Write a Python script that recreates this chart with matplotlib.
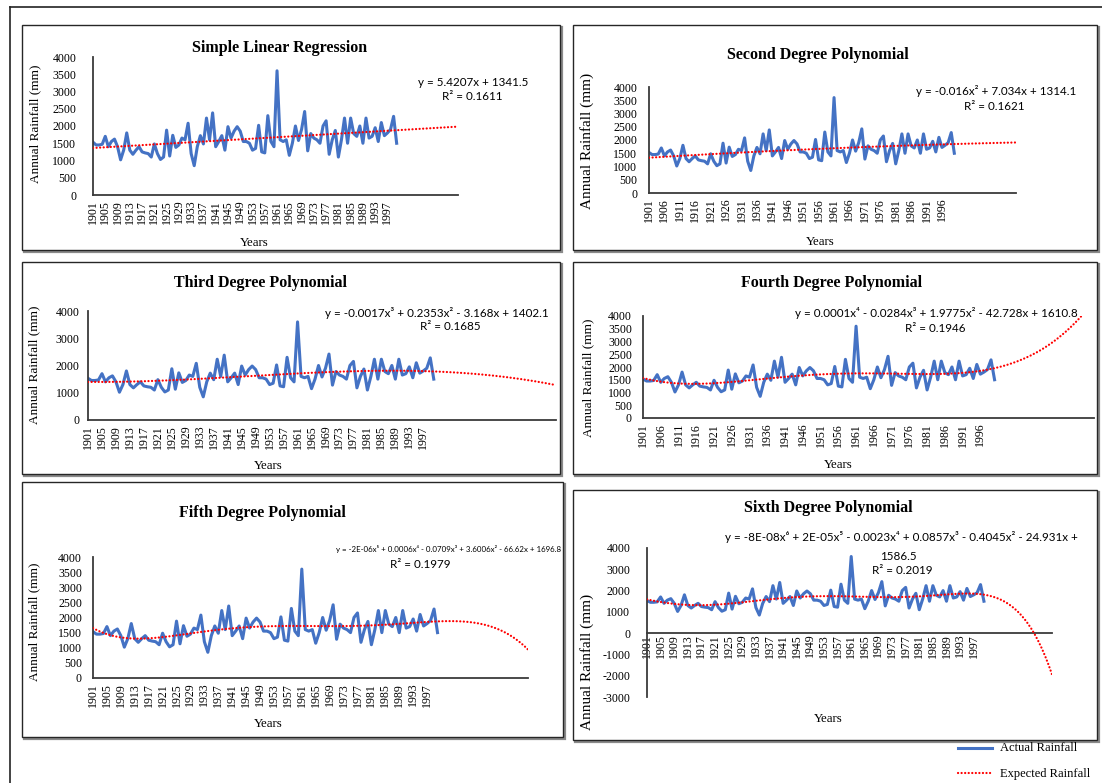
import numpy as np
import matplotlib
matplotlib.use("Agg")
import matplotlib.pyplot as plt
from matplotlib.patches import Rectangle
from matplotlib.lines import Line2D

plt.rcParams["axes.unicode_minus"] = False

W, H = 1102, 783

years = list(range(1901, 2001))
rainfall = [1530, 1450, 1450, 1470, 1700, 1400, 1550, 1620, 1400, 1020,
            1300, 1800, 1300, 1180, 1300, 1400, 1250, 1220, 1200, 1100,
            1480, 1200, 1030, 1100, 1880, 1130, 1730, 1380, 1450, 1650,
            1600, 2080, 1200, 850, 1400, 1720, 1480, 2230, 1600, 2380,
            1400, 1550, 1720, 1300, 1980, 1650, 1850, 1980, 1850, 1550,
            1550, 1500, 1300, 1350, 2020, 1250, 1220, 2300, 1550, 1400,
            3600, 1600, 1550, 1600, 1150, 1500, 2000, 1580, 1900, 2420,
            1280, 1780, 1650, 1600, 1500, 2000, 2150, 1180, 1600, 1870,
            1100, 1600, 2230, 1500, 2230, 1780, 1700, 2000, 1500, 2230,
            1650, 1700, 1950, 1550, 2100, 1720, 1800, 1900, 2280, 1500]

titles = ["Simple Linear Regression", "Second Degree Polynomial",
          "Third Degree Polynomial", "Fourth Degree Polynomial",
          "Fifth Degree Polynomial", "Sixth Degree Polynomial"]
degrees = [1, 2, 3, 4, 5, 6]
forecast_periods = [20, 20, 35, 28, 26, 20]
label_steps = [4, 5, 4, 5, 4, 4]
equations = [
    ["y = 5.4207x + 1341.5"],
    ["y = -0.016x\u00b2 + 7.034x + 1314.1"],
    ["y = -0.0017x\u00b3 + 0.2353x\u00b2 - 3.168x + 1402.1"],
    ["y = 0.0001x\u2074 - 0.0284x\u00b3 + 1.9775x\u00b2 - 42.728x + 1610.8"],
    ["y = -2E-06x\u2075 + 0.0006x\u2074 - 0.0709x\u00b3 + 3.6006x\u00b2 - 66.62x + 1696.8"],
    ["y = -8E-08x\u2076 + 2E-05x\u2075 - 0.0023x\u2074 + 0.0857x\u00b3 - 0.4045x\u00b2 - 24.931x +",
     "1586.5"],
]
r2_labels = ["R\u00b2 = 0.1611", "R\u00b2 = 0.1621", "R\u00b2 = 0.1685",
             "R\u00b2 = 0.1946", "R\u00b2 = 0.1979", "R\u00b2 = 0.2019"]
y_limits = [(0, 4000), (0, 4000), (0, 4000), (0, 4000), (0, 4000), (-3000, 4000)]
y_steps = [500, 500, 1000, 500, 500, 1000]
legend_labels = ["Actual Rainfall", "Expected Rainfall"]

SERIF = ["Liberation Serif", "DejaVu Serif"]
SANS = ["Lato", "Liberation Sans", "DejaVu Sans"]
BLUE = "#4472C4"
RED = "#FF0000"

layout = [
    dict(box=(22, 25, 560, 250), ax=(93, 57, 458, 195), title=(280, 48),
         ylab=(35, 124, 9.5), years=(254, 243), eq=[(473, 82)], r2=(472, 97), eqfs=8.4,
         ypad=12, xpad=3.5),
    dict(box=(573, 25, 1097, 250), ax=(649, 87, 1016, 193), title=(818, 55),
         ylab=(587, 141, 11), years=(820, 242), eq=[(996, 91)], r2=(994, 106), eqfs=8.4,
         ypad=8.5, xpad=3.5),
    dict(box=(22, 262, 560, 474), ax=(88, 311, 556, 420), title=(260, 283),
         ylab=(34, 365, 9.5), years=(268, 466), eq=[(437, 313)], r2=(450, 327), eqfs=8.4,
         ypad=6, xpad=3.5),
    dict(box=(573, 262, 1097, 474), ax=(643, 316, 1094, 418), title=(832, 283),
         ylab=(588, 378, 9.5), years=(838, 465), eq=[(936, 313)], r2=(935, 328), eqfs=8.4,
         ypad=8, xpad=3.5),
    dict(box=(22, 482, 563, 737), ax=(93, 557, 528, 678), title=(262, 513),
         ylab=(34, 622, 9.5), years=(268, 724), eq=[(449, 549)], r2=(420, 565), eqfs=5.7,
         ypad=8, xpad=3.5),
    dict(box=(573, 490, 1097, 740), ax=(647, 548, 1052, 697), title=(828, 508),
         ylab=(587, 662, 11), years=(828, 719), eq=[(901, 537), (898, 556)], r2=(902, 571),
         eqfs=8.4, ypad=12, xpad=0.5),
]

fig = plt.figure(figsize=(W / 100, H / 100), dpi=100)
fig.patch.set_facecolor("white")


def fx(x):
    return x / W


def fy(y):
    return 1 - y / H


def ftext(x, y, s, **kw):
    fig.text(fx(x), fy(y), s, **kw)


fig.add_artist(Line2D([fx(10), fx(10)], [fy(7), fy(783)], color="#222222", lw=1.2, zorder=-5))
fig.add_artist(Line2D([fx(10), fx(1102)], [fy(7), fy(7)], color="#222222", lw=1.2, zorder=-5))

x_data = np.arange(1, len(rainfall) + 1)

for i in range(6):
    L = layout[i]
    bx0, by0, bx1, by1 = L["box"]
    fig.add_artist(Rectangle((fx(bx0 + 1.5), fy(by1 + 1.5)), fx(bx1 - bx0), (by1 - by0) / H,
                             facecolor="none", edgecolor="#8a8a8a", lw=1.6, zorder=-4))
    fig.add_artist(Rectangle((fx(bx0), fy(by1)), fx(bx1 - bx0), (by1 - by0) / H,
                             facecolor="white", edgecolor="#262626", lw=1.0, zorder=-3))

    al, at, ar, ab = L["ax"]
    ax = fig.add_axes([fx(al), fy(ab), (ar - al) / W, (ab - at) / H])
    ax.set_facecolor("none")
    for s in ["top", "right"]:
        ax.spines[s].set_visible(False)
    for s in ["left", "bottom"]:
        ax.spines[s].set_color("#3a3a3a")
        ax.spines[s].set_linewidth(1.3)
    if y_limits[i][0] < 0:
        ax.spines["bottom"].set_position(("data", 0))

    # Excel-style polynomial trendline fitted on x = 1..n, extended forward
    n_total = len(rainfall) + forecast_periods[i]
    poly = np.polynomial.Polynomial.fit(x_data, rainfall, degrees[i])
    x_trend = np.arange(1, n_total + 1)
    y_trend = poly(x_trend)

    ax.plot(np.arange(len(rainfall)), rainfall, color=BLUE, lw=2.2,
            solid_joinstyle="round", zorder=2)
    ax.plot(x_trend - 1, y_trend, color=RED, lw=1.6, linestyle=(0, (0.05, 1.55)),
            dash_capstyle="round", zorder=3)

    ax.set_xlim(0, n_total - 1)
    ax.set_ylim(*y_limits[i])
    ax.set_yticks(np.arange(y_limits[i][0], y_limits[i][1] + 1, y_steps[i]))
    tick_pos = list(range(0, len(years), label_steps[i]))
    ax.set_xticks(tick_pos)
    ax.set_xticklabels([str(years[p]) for p in tick_pos], rotation=90,
                       fontfamily=SERIF, fontsize=8.6)
    for lab in ax.get_yticklabels():
        lab.set_fontfamily(SERIF)
        lab.set_fontsize(8.6)
    ax.tick_params(axis="both", length=0)
    ax.tick_params(axis="y", pad=L["ypad"])
    ax.tick_params(axis="x", pad=L["xpad"])

    ftext(*L["title"], titles[i], ha="center", va="center", fontfamily=SERIF,
          fontweight="bold", fontsize=11.5)
    yx, yy, ys = L["ylab"]
    ftext(yx, yy, "Annual Rainfall (mm)", ha="center", va="center", rotation=90,
          fontfamily=SERIF, fontsize=ys)
    ftext(*L["years"], "Years", ha="center", va="center", fontfamily=SERIF, fontsize=9.3)
    for (ex, ey), line in zip(L["eq"], equations[i]):
        ftext(ex, ey, line, ha="center", va="center", fontfamily=SANS, fontsize=L["eqfs"])
    ftext(*L["r2"], r2_labels[i], ha="center", va="center", fontfamily=SANS, fontsize=8.4)

fig.add_artist(Line2D([fx(958), fx(992)], [fy(748), fy(748)], color=BLUE, lw=2.2))
fig.add_artist(Line2D([fx(958), fx(992)], [fy(773), fy(773)], color=RED, lw=1.6,
                      linestyle=(0, (0.05, 1.55)), dash_capstyle="round"))
ftext(1000, 748, legend_labels[0], ha="left", va="center", fontfamily=SERIF, fontsize=9)
ftext(1000, 774, legend_labels[1], ha="left", va="center", fontfamily=SERIF, fontsize=9)

fig.savefig("out.png", dpi=100, facecolor="white")
